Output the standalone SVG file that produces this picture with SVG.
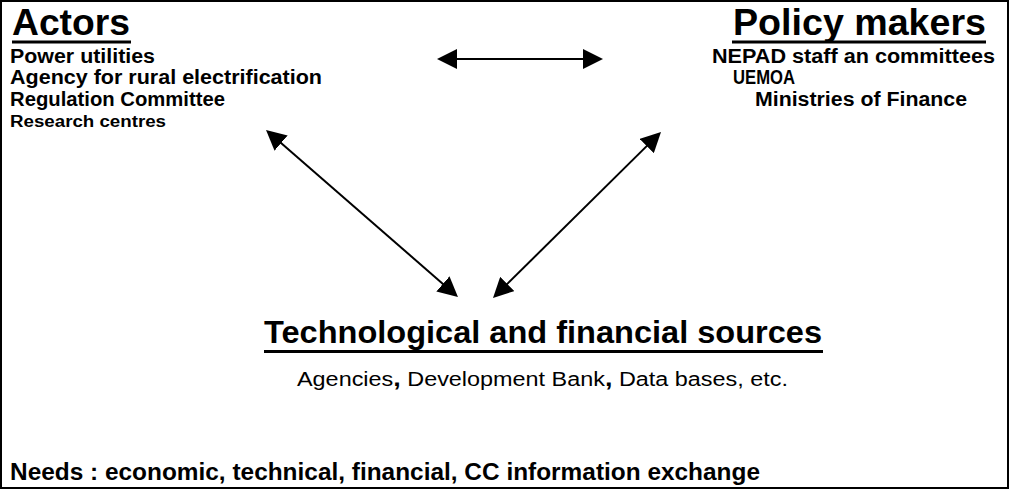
<svg xmlns="http://www.w3.org/2000/svg" width="1012" height="490" viewBox="0 0 1012 490">
  <style>
    text { font-family: "Liberation Sans", Arial, sans-serif; fill: #000; }
    .head { font-size: 37px; font-weight: bold; }
    .title { font-size: 32px; font-weight: bold; }
    .item { font-size: 19.5px; font-weight: bold; }
    .small { font-size: 16px; font-weight: bold; }
    .plain { font-size: 20px; }
    .needs { font-size: 23.5px; font-weight: bold; }
    .rule { fill: #000; }
    .conn { stroke: #000; stroke-width: 2; fill: none; marker-start: url(#head); marker-end: url(#head); }
  </style>
  <defs>
    <marker id="head" viewBox="0 0 20 20" markerWidth="20" markerHeight="20" markerUnits="userSpaceOnUse" refX="2" refY="10" orient="auto-start-reverse">
      <path d="M0,0 L20,10 L0,20 z" fill="#000"/>
    </marker>
  </defs>

  <rect x="1" y="1" width="1007" height="487" fill="#fff" stroke="#000" stroke-width="2"/>

  <g id="actors">
    <text class="head" x="12" y="35" textLength="118" lengthAdjust="spacingAndGlyphs">Actors</text>
    <rect class="rule" x="12" y="40.5" width="119" height="3"/>
    <text class="item" x="10" y="63" textLength="145" lengthAdjust="spacingAndGlyphs">Power utilities</text>
    <text class="item" x="10" y="84" textLength="312" lengthAdjust="spacingAndGlyphs">Agency for rural electrification</text>
    <text class="item" x="10" y="106" textLength="215" lengthAdjust="spacingAndGlyphs">Regulation Committee</text>
    <text class="small" x="10" y="127" textLength="156" lengthAdjust="spacingAndGlyphs">Research centres</text>
  </g>

  <g id="policy-makers">
    <text class="head" x="733" y="35" textLength="253" lengthAdjust="spacingAndGlyphs">Policy makers</text>
    <rect class="rule" x="732" y="40.5" width="254" height="3"/>
    <text class="item" x="712" y="63" textLength="283" lengthAdjust="spacingAndGlyphs">NEPAD staff an committees</text>
    <text class="item" x="733" y="84" textLength="62" lengthAdjust="spacingAndGlyphs">UEMOA</text>
    <text class="item" x="755" y="106" textLength="212" lengthAdjust="spacingAndGlyphs">Ministries of Finance</text>
  </g>

  <g id="sources">
    <text class="title" x="264" y="343" textLength="558" lengthAdjust="spacingAndGlyphs">Technological and financial sources</text>
    <rect class="rule" x="264" y="350" width="559" height="3"/>
    <text class="plain" x="297" y="386" textLength="491" lengthAdjust="spacingAndGlyphs">Agencies<tspan font-weight="bold" font-size="23px">,</tspan>  Development Bank<tspan font-weight="bold" font-size="23px">,</tspan>  Data bases, etc.</text>
  </g>

  <g id="needs">
    <text class="needs" x="10" y="480" textLength="750" lengthAdjust="spacingAndGlyphs">Needs : economic, technical, financial, CC information exchange</text>
  </g>

  <g id="connectors">
    <line class="conn" x1="455" y1="59" x2="585" y2="59"/>
    <line class="conn" x1="279.6" y1="141.8" x2="444.4" y2="285.2"/>
    <line class="conn" x1="648.2" y1="144.65" x2="505.8" y2="285.35"/>
  </g>
</svg>
